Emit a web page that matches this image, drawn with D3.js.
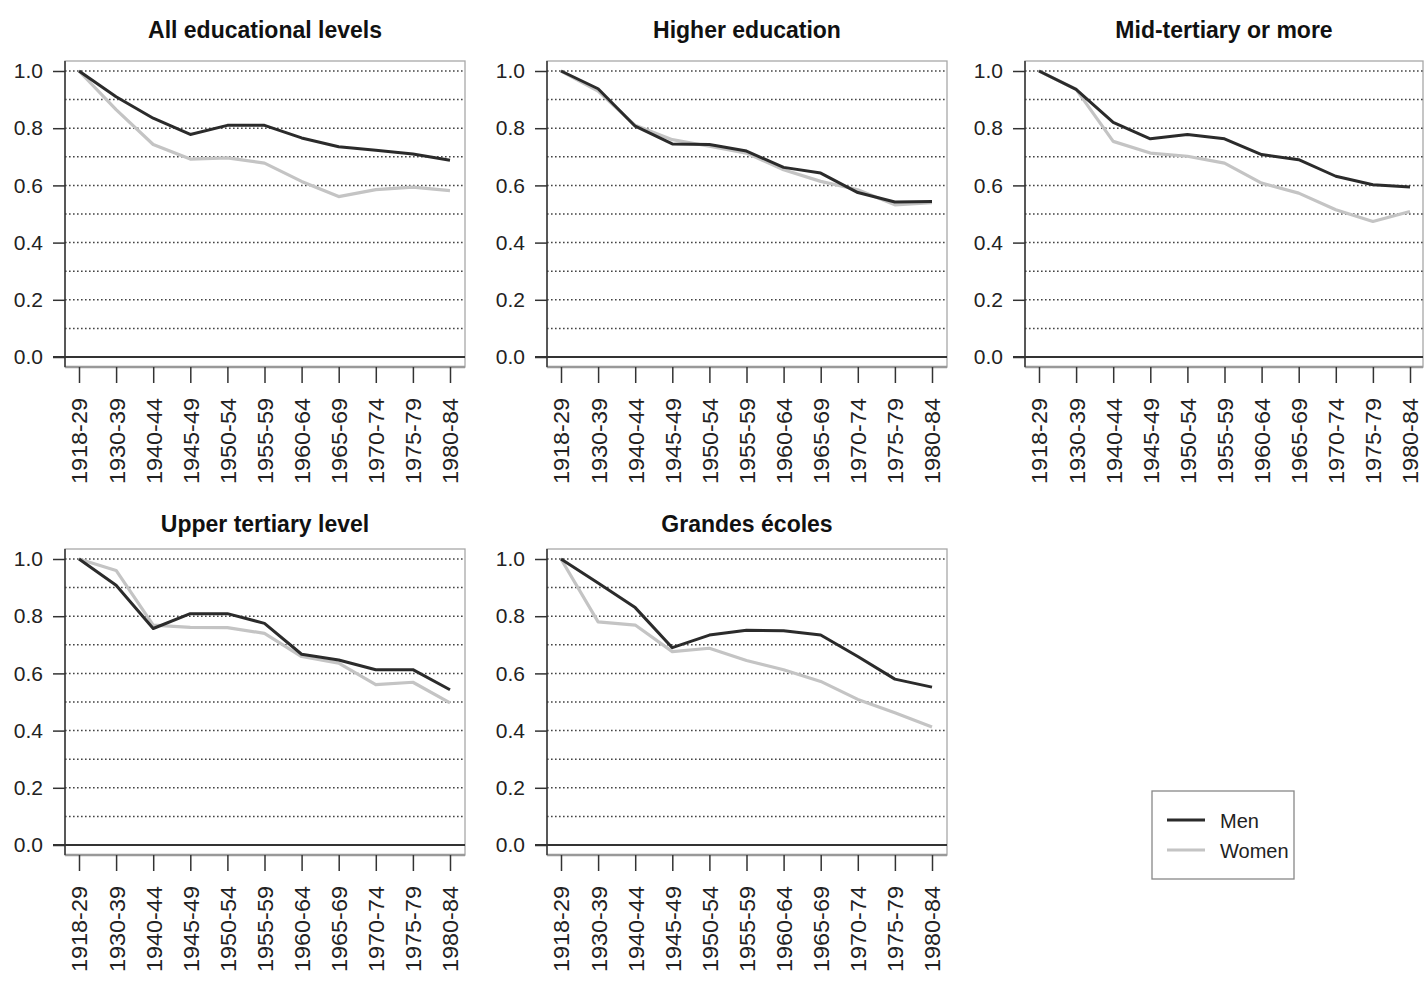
<!DOCTYPE html>
<html><head><meta charset="utf-8">
<script src="https://cdn.jsdelivr.net/npm/d3@7"></script>
<style>
body{margin:0;background:#fff}
svg{display:block;font-family:"Liberation Sans",Arial,sans-serif}
</style>
</head><body>
<svg id="c" width="1426" height="985"></svg>
<script>
// ---- data ----
const cohorts = ["1918-29","1930-39","1940-44","1945-49","1950-54","1955-59","1960-64","1965-69","1970-74","1975-79","1980-84"];
const yTickValues = [0, 0.2, 0.4, 0.6, 0.8, 1.0];
const gridValues = [0.1, 0.2, 0.3, 0.4, 0.5, 0.6, 0.7, 0.8, 0.9, 1.0];
const panelTitles = ["All educational levels", "Higher education", "Mid-tertiary or more", "Upper tertiary level", "Grandes écoles"];
const seriesNames = ["Men", "Women"];

const menAll      = [1.00, 0.91, 0.835, 0.778, 0.81, 0.81, 0.766, 0.735, 0.723, 0.71, 0.688];
const womenAll    = [1.00, 0.865, 0.743, 0.692, 0.696, 0.678, 0.614, 0.561, 0.585, 0.594, 0.582];
const menHigher   = [1.00, 0.938, 0.807, 0.745, 0.743, 0.72, 0.663, 0.643, 0.575, 0.542, 0.544];
const womenHigher = [1.00, 0.93, 0.81, 0.76, 0.737, 0.713, 0.655, 0.614, 0.585, 0.532, 0.54];
const menMid      = [1.00, 0.936, 0.82, 0.763, 0.778, 0.763, 0.708, 0.69, 0.632, 0.602, 0.594];
const womenMid    = [1.00, 0.936, 0.754, 0.713, 0.702, 0.678, 0.608, 0.573, 0.515, 0.474, 0.509];
const menUpper    = [1.00, 0.908, 0.757, 0.809, 0.809, 0.775, 0.667, 0.647, 0.613, 0.613, 0.543];
const womenUpper  = [1.00, 0.96, 0.769, 0.761, 0.76, 0.74, 0.659, 0.636, 0.561, 0.569, 0.497];
const menGE       = [1.00, 0.916, 0.83, 0.69, 0.734, 0.751, 0.749, 0.734, 0.659, 0.58, 0.552];
const womenGE     = [1.00, 0.78, 0.769, 0.676, 0.688, 0.645, 0.613, 0.572, 0.509, 0.462, 0.413];

const menSeries   = [menAll, menHigher, menMid, menUpper, menGE];
const womenSeries = [womenAll, womenHigher, womenMid, womenUpper, womenGE];

// ---- layout ----
const boxLeft = [65, 547, 1025, 65, 547];
const boxTop  = [61, 61, 61, 549, 549];
const titleBase = [38, 38, 38, 532, 532];
const boxW = 400;
const C_MEN = "#2b2b2b", C_WOMEN = "#c4c4c4";

const svg = d3.select("#c");

panelTitles.forEach((title, i) => {
  const x0 = boxLeft[i], top = boxTop[i];
  const bottom = top + 306;
  const w = i === 2 ? 398 : boxW;
  const x = d3.scalePoint().domain(cohorts).range([x0 + 14, x0 + 385]);
  const y = d3.scaleLinear().domain([0, 1]).range([top + 296, top + 10]);
  const g = svg.append("g");

  // frame
  g.append("rect").attr("x", x0).attr("y", top).attr("width", w).attr("height", bottom - top)
    .attr("fill", "none").attr("stroke", "#a8a8a8").attr("stroke-width", 1.3);
  g.append("line").attr("x1", x0).attr("x2", x0 + w).attr("y1", bottom).attr("y2", bottom)
    .attr("stroke", "#999").attr("stroke-width", 2.5);

  // dotted grid
  g.selectAll(".grid").data(gridValues).join("line")
    .attr("x1", x0).attr("x2", x0 + w)
    .attr("y1", d => y(d)).attr("y2", d => y(d))
    .attr("stroke", "#444").attr("stroke-width", 1.5)
    .attr("stroke-dasharray", "1.6,2.4");

  // zero line
  g.append("line").attr("x1", x0 - 12).attr("x2", x0 + w).attr("y1", y(0)).attr("y2", y(0))
    .attr("stroke", "#333").attr("stroke-width", 1.8);

  // y axis
  const ya = g.append("g").attr("transform", `translate(${x0},0)`)
    .call(d3.axisLeft(y).tickValues(yTickValues).tickSize(12).tickPadding(10).tickFormat(d3.format(".1f")));
  ya.select(".domain").remove();
  g.append("line").attr("x1", x0).attr("x2", x0).attr("y1", top).attr("y2", bottom)
    .attr("stroke", "#333").attr("stroke-width", 1.5);
  ya.selectAll(".tick line").attr("stroke", "#333").attr("stroke-width", 1.5);
  ya.selectAll(".tick text").attr("font-size", 21).attr("fill", "#222")
    .attr("font-family", "Liberation Sans, Arial, sans-serif");

  // x axis
  const xa = g.append("g").attr("transform", `translate(0,${bottom})`)
    .call(d3.axisBottom(x).tickSize(16));
  xa.select(".domain").remove();
  xa.selectAll(".tick line").attr("stroke", "#333").attr("stroke-width", 1.5);
  xa.selectAll(".tick text")
    .attr("transform", "rotate(-90)")
    .attr("x", -31).attr("y", 0).attr("dy", "0.36em")
    .attr("text-anchor", "end")
    .attr("font-size", 22).attr("fill", "#222")
    .attr("font-family", "Liberation Sans, Arial, sans-serif")
    .attr("textLength", 86).attr("lengthAdjust", "spacingAndGlyphs");

  // title
  g.append("text").attr("x", x0 + w / 2).attr("y", titleBase[i])
    .attr("text-anchor", "middle").attr("font-weight", "bold").attr("font-size", 23)
    .attr("fill", "#111").text(title);

  // lines
  const line = d3.line().x((d, k) => x(cohorts[k])).y(d => y(d));
  g.append("path").datum(womenSeries[i]).attr("d", line)
    .attr("fill", "none").attr("stroke", C_WOMEN).attr("stroke-width", 3.2).attr("stroke-linejoin", "round");
  g.append("path").datum(menSeries[i]).attr("d", line)
    .attr("fill", "none").attr("stroke", C_MEN).attr("stroke-width", 3).attr("stroke-linejoin", "round");
});

// legend
const lg = svg.append("g");
lg.append("rect").attr("x", 1152).attr("y", 791).attr("width", 142).attr("height", 88)
  .attr("fill", "#fff").attr("stroke", "#888").attr("stroke-width", 1.3);
const legendColors = [C_MEN, C_WOMEN];
seriesNames.forEach((name, k) => {
  const yy = 820 + k * 30;
  lg.append("line").attr("x1", 1167).attr("x2", 1205).attr("y1", yy).attr("y2", yy)
    .attr("stroke", legendColors[k]).attr("stroke-width", 3);
  lg.append("text").attr("x", 1220).attr("y", yy + 8).attr("font-size", 20).attr("fill", "#222").text(name);
});
</script>
</body></html>
